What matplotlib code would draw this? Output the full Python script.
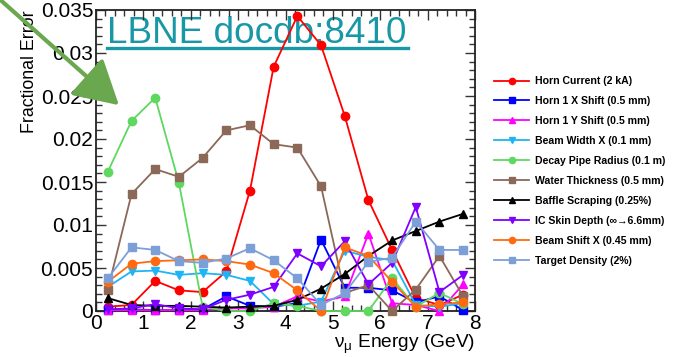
import matplotlib
matplotlib.use("Agg")
import matplotlib.pyplot as plt
from matplotlib.ticker import MultipleLocator, FixedLocator, FixedFormatter
from matplotlib.patches import FancyArrowPatch
from matplotlib.lines import Line2D

plt.rcParams['font.family'] = ['Liberation Sans', 'DejaVu Sans']
plt.rcParams['mathtext.fontset'] = 'custom'
plt.rcParams['mathtext.rm'] = 'Liberation Sans'
plt.rcParams['mathtext.it'] = 'Liberation Sans'

# Bin centres of neutrino energy (GeV)
energy = [0.25, 0.75, 1.25, 1.75, 2.25, 2.75, 3.25, 3.75,
          4.25, 4.75, 5.25, 5.75, 6.25, 6.75, 7.25, 7.75]

horn_current = [0.0005, 0.0007, 0.0035, 0.0024, 0.0022, 0.0046, 0.0140, 0.0284,
                0.0343, 0.0309, 0.0227, 0.0129, 0.0071, 0.0015, 0.0007, 0.0019]
horn1_x_shift = [0.0001, 0.0002, 0.0001, 0.0001, 0.0002, 0.0017, 0.0006, 0.0005,
                 0.0009, 0.0083, 0.0027, 0.0027, 0.0024, 0.0010, 0.0017, 0.0001]
horn1_y_shift = [0.0001, 0.0001, 0.0001, 0.0001, 0.0001, 0.0003, 0.0003, 0.0005,
                 0.0017, 0.0011, 0.0017, 0.0090, 0.0009, 0.0007, 0.0000, 0.0031]
beam_width_x = [0.0028, 0.0046, 0.0047, 0.0042, 0.0044, 0.0042, 0.0035, 0.0008,
                0.0006, 0.0011, 0.0070, 0.0063, 0.0059, 0.0007, 0.0005, 0.0009]
decay_pipe_radius = [0.0162, 0.0221, 0.0248, 0.0149, 0.0005, 0.0000, 0.0000, 0.0009,
                     0.0006, 0.0000, 0.0000, 0.0000, 0.0038, 0.0005, 0.0021, 0.0008]
water_thickness = [0.0025, 0.0136, 0.0165, 0.0156, 0.0178, 0.0210, 0.0216, 0.0194,
                   0.0190, 0.0145, 0.0021, 0.0030, 0.0000, 0.0025, 0.0064, 0.0017]
baffle_scraping = [0.0015, 0.0007, 0.0006, 0.0006, 0.0005, 0.0004, 0.0005, 0.0006,
                   0.0013, 0.0026, 0.0043, 0.0064, 0.0082, 0.0093, 0.0104, 0.0113]
ic_skin_depth = [0.0002, 0.0003, 0.0008, 0.0003, 0.0002, 0.0013, 0.0019, 0.0028,
                 0.0067, 0.0052, 0.0081, 0.0031, 0.0056, 0.0121, 0.0022, 0.0042]
beam_shift_x = [0.0034, 0.0055, 0.0058, 0.0059, 0.0060, 0.0058, 0.0054, 0.0044,
                0.0024, 0.0000, 0.0074, 0.0064, 0.0034, 0.0005, 0.0008, 0.0010]
target_density = [0.0038, 0.0074, 0.0071, 0.0058, 0.0056, 0.0061, 0.0073, 0.0059,
                  0.0038, 0.0007, 0.0021, 0.0057, 0.0062, 0.0104, 0.0071, 0.0071]

labels = ["Horn Current (2 kA)", "Horn 1 X Shift (0.5 mm)", "Horn 1 Y Shift (0.5 mm)",
          "Beam Width X (0.1 mm)", "Decay Pipe Radius (0.1 m)", "Water Thickness (0.5 mm)",
          "Baffle Scraping (0.25%)", "IC Skin Depth (\u221e\u21926.6mm)",
          "Beam Shift X (0.45 mm)", "Target Density (2%)"]

series = [horn_current, horn1_x_shift, horn1_y_shift, beam_width_x, decay_pipe_radius,
          water_thickness, baffle_scraping, ic_skin_depth, beam_shift_x, target_density]
colors = ["#ff0000", "#0000ff", "#ff00ff", "#1eb4f5", "#5fd85f",
          "#8c6858", "#000000", "#8000ff", "#ff6a10", "#7d9fd8"]
markers = ["o", "s", "^", "v", "o", "s", "^", "v", "o", "s"]

xticks = [0, 1, 2, 3, 4, 5, 6, 7, 8]
yticks = [0, 0.005, 0.01, 0.015, 0.02, 0.025, 0.03, 0.035]
ytick_labels = ["0", "0.005", "0.01", "0.015", "0.02", "0.025", "0.03", "0.035"]

fig = plt.figure(figsize=(6.77, 3.57), dpi=100)
ax = fig.add_axes([96 / 677, 1 - 311 / 357, 379 / 677, 301 / 357])

for vals, col, mk, lab in zip(series, colors, markers, labels):
    ax.plot(energy, vals, color=col, marker=mk, markersize=6, lw=1.3,
            label=lab, clip_on=False, zorder=3)

ax.set_xlim(0, 8)
ax.set_ylim(0, 0.035)
ax.xaxis.set_major_locator(FixedLocator(xticks))
ax.xaxis.set_minor_locator(MultipleLocator(0.2))
ax.yaxis.set_major_locator(FixedLocator(yticks))
ax.yaxis.set_major_formatter(FixedFormatter(ytick_labels))
ax.yaxis.set_minor_locator(MultipleLocator(0.001))
ax.tick_params(which='both', direction='in', top=True, right=True,
               labelsize=15, width=1, colors='#333333', labelcolor='black')
ax.tick_params(which='major', length=7, pad=2)
ax.tick_params(which='minor', length=4)
for sp in ax.spines.values():
    sp.set_linewidth(1.3)
    sp.set_color('#222222')

ax.set_ylabel("Fractional Error", fontsize=12.8, loc='top', labelpad=2)
ax.set_xlabel(r"$\mathregular{\nu_{\mu}}$ Energy (GeV)", fontsize=13.8, loc='right', labelpad=0)

# Legend beside the frame
leg_handles = [Line2D([0], [0], color=c, marker=m, markersize=4.5, lw=1.3)
               for c, m in zip(colors, markers)]
fig.legend(leg_handles, labels, loc='upper left', bbox_to_anchor=(490 / 677, 1 - 72 / 357),
           frameon=False, prop={'weight': 'bold', 'size': 7.6},
           handlelength=3.3, handletextpad=0.6, labelspacing=0.94, borderaxespad=0)

# Document reference banner
title_col = "#1897a6"
ax.text(107 / 677, 1 - 43 / 357, "LBNE docdb:8410", transform=fig.transFigure,
        fontsize=26.6, color=title_col, ha='left', va='baseline', zorder=1)
ax.add_line(Line2D([107 / 677, 408 / 677], [1 - 47.5 / 357, 1 - 47.5 / 357],
                   transform=fig.transFigure, color=title_col, lw=2.4, zorder=1))

# Pointer arrow
arrow = FancyArrowPatch((-4 / 677, 1 + 4 / 357), (121 / 677, 1 - 107 / 357),
                        transform=fig.transFigure, arrowstyle='-|>,head_length=1.5,head_width=0.85',
                        mutation_scale=18, color='#6aa84f', lw=3, zorder=10)
fig.patches.append(arrow)

fig.savefig("out.png", dpi=100)
